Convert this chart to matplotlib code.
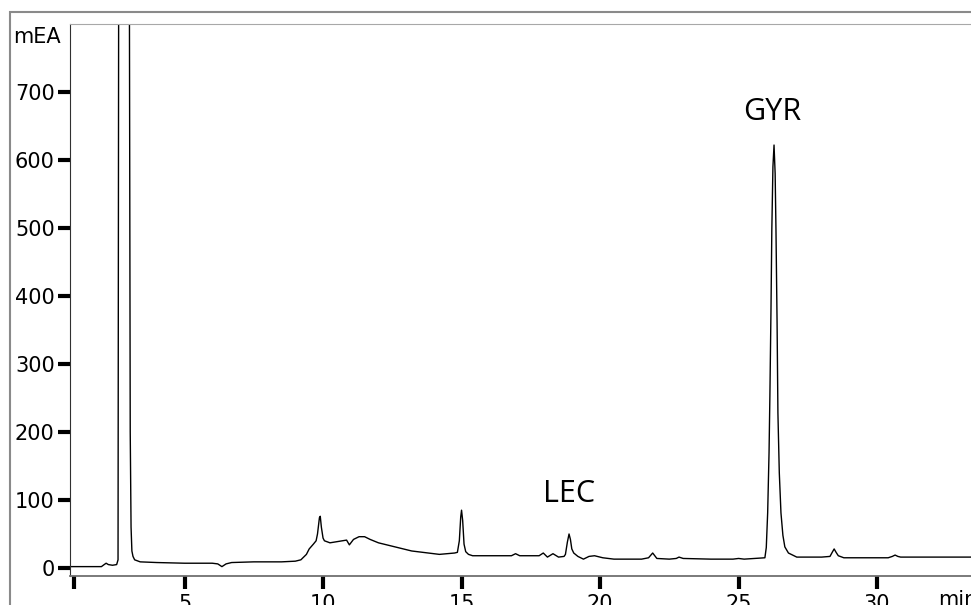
import matplotlib.pyplot as plt
from matplotlib.patches import Rectangle

# chromatogram trace (min, mEA)
time_min = [0.87, 1.5, 2.0, 2.1, 2.17, 2.25, 2.4, 2.55, 2.6, 2.64, 2.8, 2.98, 3.04, 3.07,
            3.1, 3.14, 3.2, 3.4, 4.0, 5.0, 6.0, 6.2, 6.35, 6.5, 6.7, 7.5, 8.5, 9.0, 9.2,
            9.4, 9.5, 9.65, 9.75, 9.8, 9.87, 9.9, 9.94, 10.0, 10.05, 10.25, 10.85, 10.95, 11.1,
            11.3, 11.5, 11.7, 12.0, 13.2, 14.2, 14.75, 14.85, 14.92, 14.97, 15.0, 15.04, 15.09,
            15.15, 15.25, 15.4, 16.8, 16.95, 17.1, 17.8, 17.95, 18.1, 18.3, 18.5, 18.7, 18.75,
            18.82, 18.88, 18.93, 18.98, 19.05, 19.2, 19.4, 19.6, 19.8, 20.1, 20.5, 21.5, 21.75,
            21.9, 22.05, 22.5, 22.75, 22.85, 23.0, 24.0, 24.8, 25.0, 25.2, 25.95, 26.0, 26.05,
            26.1, 26.13, 26.17, 26.2, 26.24, 26.28, 26.32, 26.35, 26.39, 26.42, 26.47, 26.53,
            26.6, 26.67, 26.8, 27.1, 28.0, 28.3, 28.38, 28.45, 28.52, 28.6, 28.8, 30.4, 30.55,
            30.65, 30.75, 30.85, 31.5, 33.4]
signal = [2, 2, 2, 5, 7, 5, 4, 5, 12, 1500, 2600, 1500, 200, 60,
          25, 17, 12, 9, 8, 7, 7, 6, 2, 6, 8, 9, 9, 10, 12,
          20, 28, 35, 40, 50, 74, 76, 60, 44, 40, 37, 41, 34, 42,
          46, 46, 42, 37, 25, 20, 22, 23, 40, 75, 85, 70, 35,
          24, 20, 18, 18, 21, 18, 18, 22, 16, 21, 16, 17, 20,
          38, 50, 42, 28, 22, 17, 13, 17, 18, 15, 13, 13, 15,
          22, 14, 13, 14, 16, 14, 13, 13, 14, 13, 15, 30, 81,
          170, 252, 380, 497, 590, 622, 580, 497, 360, 228, 140, 81,
          48, 31, 22, 16, 16, 17, 23, 28, 23, 18, 15, 15, 17,
          19, 17, 16, 16, 16]

peak_names = ["LEC", "GYR"]
peak_x = [18.88, 26.2]
peak_y = [109, 671]

x_ticks = [1, 5, 10, 15, 20, 25, 30]
x_labels = ["", "5", "10", "15", "20", "25", "30"]
y_ticks = [0, 100, 200, 300, 400, 500, 600, 700]

W, H = 971, 605
fig = plt.figure(figsize=(W / 100, H / 100), dpi=100)
plt.rcParams['font.family'] = 'DejaVu Sans'

# outer frame
fig.patches.append(Rectangle((10 / W, -0.1), 1.2, 1 - 12 / H + 0.1, transform=fig.transFigure,
                             fill=False, edgecolor='#8a8a8a', linewidth=1.5))

ax = fig.add_axes([70 / W, 29 / H, 1 - 70 / W, (576 - 24) / H])
ax.plot(time_min, signal, color='black', linewidth=1.0)
ax.set_xlim(0.866, 33.39)
ax.set_ylim(-11.8, 800)

ax.set_xticks(x_ticks)
ax.set_xticklabels(x_labels)
ax.set_xticks(range(2, 34), minor=True)
ax.set_yticks(y_ticks)
ax.tick_params(axis='both', which='major', length=9, width=3, color='black',
               labelsize=15, pad=2)
ax.tick_params(axis='x', which='major', pad=4)
ax.tick_params(axis='x', which='minor', direction='inout', length=3, width=1.2, color='white')

ax.spines['right'].set_visible(False)
ax.spines['top'].set_color('#a8a8a8')
ax.spines['bottom'].set_color('#707070')
ax.spines['bottom'].set_linewidth(1.3)
ax.spines['left'].set_color('#303030')

for name, px, py in zip(peak_names, peak_x, peak_y):
    ax.text(px, py, name, ha='center', va='center', fontsize=22, family='Open Sans')

fig.text(13 / W, 1 - 43 / H, "mEA", fontsize=15, va='baseline', ha='left')
fig.text(938 / W, 1 - 606 / H, "min", fontsize=15, va='baseline', ha='left')

plt.savefig('out.png', dpi=100)
